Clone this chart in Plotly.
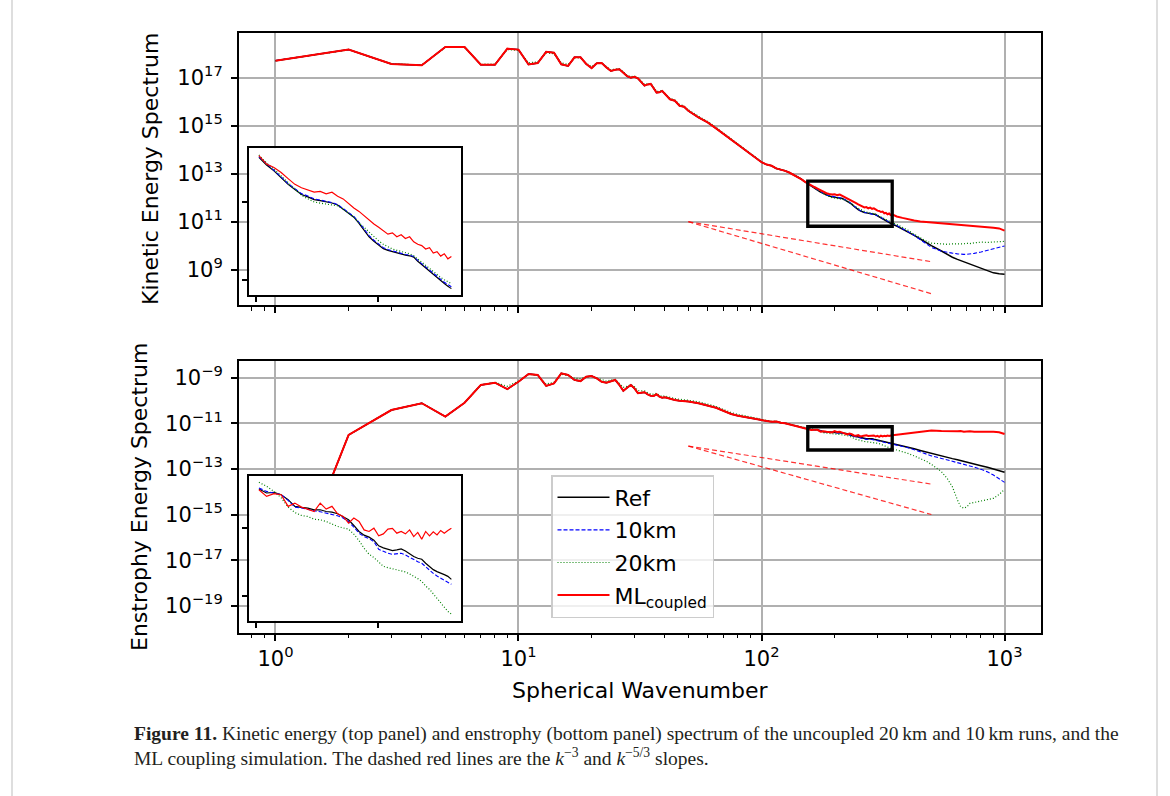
import math
import plotly.graph_objects as go

# ---------------- data (values stored as log10 of the spectrum) ----------------
wavenumber = (list(range(1, 41)) + [42, 44, 46, 48]
              + list(range(50, 151, 5))
              + list(range(155, 346, 5))
              + [360, 380, 400, 425, 450, 475, 500, 550, 580, 610, 640, 660, 680,
                 700, 720, 750, 800, 850, 900, 950, 1000])

zoom_window = [155, 345]

# Kinetic energy spectrum (top panel)
ke_shared_low = [17.71, 18.17, 17.57, 17.52, 18.28, 18.28, 17.54, 17.54, 18.21, 18.17,
                 17.55, 17.61, 18.08, 18.04, 17.56, 17.49, 17.85, 17.85, 17.57, 17.40,
                 17.60, 17.61, 17.43, 17.28, 17.33, 17.35, 17.21, 17.06, 17.00, 17.04,
                 16.97, 16.82, 16.67, 16.72, 16.74, 16.56, 16.38, 16.39, 16.45, 16.33,
                 16.10, 16.04, 15.83, 15.79]
ke_shared_mid = [15.62, 15.35, 15.14, 14.89, 14.65, 14.43, 14.20, 14.02, 13.82, 13.65,
                 13.48, 13.38, 13.33, 13.22, 13.18, 13.12, 13.05, 12.97, 12.88, 12.79, 12.68]

ke_ref = ke_shared_low + ke_shared_mid + [
    12.576, 12.477, 12.403, 12.316, 12.23, 12.165, 12.10, 12.07, 12.035, 12.022,
    12.009, 11.992, 11.966, 11.914, 11.862, 11.81, 11.732, 11.645, 11.559, 11.502,
    11.45, 11.408, 11.386, 11.368, 11.351, 11.338, 11.325, 11.316, 11.299, 11.247,
    11.204, 11.16, 11.113, 11.074, 11.03, 10.996, 10.961, 10.927, 10.896,
    10.82, 10.70, 10.58, 10.43, 10.28, 10.13, 10.00, 9.78, 9.64, 9.52, 9.43, 9.38,
    9.32, 9.28, 9.23, 9.15, 9.04, 8.94, 8.87, 8.83, 8.81]

ke_10km = ke_shared_low + ke_shared_mid + [
    12.585, 12.49, 12.41, 12.325, 12.24, 12.175, 12.112, 12.08, 12.045, 12.03,
    12.015, 11.998, 11.972, 11.922, 11.872, 11.82, 11.745, 11.66, 11.575, 11.515,
    11.462, 11.42, 11.396, 11.378, 11.36, 11.346, 11.333, 11.323, 11.306, 11.258,
    11.215, 11.172, 11.127, 11.088, 11.045, 11.012, 10.978, 10.947, 10.92,
    10.84, 10.72, 10.59, 10.43, 10.26, 10.08, 9.93, 9.77, 9.72, 9.69, 9.66, 9.64,
    9.64, 9.64, 9.65, 9.68, 9.74, 9.80, 9.87, 9.93, 9.99]

ke_20km = [17.71, 18.16, 17.58, 17.53, 18.26, 18.26, 17.56, 17.57, 18.17, 18.14,
           17.62, 17.66, 18.03, 18.00, 17.62, 17.55, 17.82, 17.82, 17.60, 17.46,
           17.61, 17.62, 17.46, 17.33, 17.36, 17.37, 17.25, 17.10, 17.04, 17.07,
           16.99, 16.86, 16.72, 16.75, 16.76, 16.60, 16.43, 16.43, 16.47, 16.36,
           16.14, 16.07, 15.88, 15.83,
           15.66, 15.40, 15.18, 14.93, 14.69, 14.47, 14.24, 14.05, 13.85, 13.67,
           13.49, 13.39, 13.34, 13.23, 13.19, 13.13, 13.06, 12.98, 12.89, 12.80, 12.70,
           12.606, 12.503, 12.425, 12.338, 12.251, 12.165, 12.09, 12.045, 12.005, 11.99,
           11.98, 11.97, 11.955, 11.915, 11.865, 11.81, 11.74, 11.68, 11.611, 11.559,
           11.507, 11.463, 11.429, 11.403, 11.386, 11.373, 11.36, 11.343, 11.316, 11.273,
           11.234, 11.195, 11.152, 11.113, 11.074, 11.04, 11.009, 10.983, 10.961,
           10.89, 10.78, 10.65, 10.48, 10.32, 10.20, 10.11, 10.07, 10.06, 10.08, 10.07,
           10.09, 10.08, 10.10, 10.09, 10.12, 10.15, 10.14, 10.16, 10.17, 10.18]

ke_ml = ke_shared_low + ke_shared_mid + [
    12.598, 12.49, 12.446, 12.381, 12.303, 12.23, 12.187, 12.156, 12.13, 12.139,
    12.109, 12.13, 12.078, 12.044, 11.983, 11.927, 11.884, 11.827, 11.775, 11.723,
    11.68, 11.636, 11.593, 11.61, 11.559, 11.585, 11.537, 11.559, 11.494, 11.463,
    11.446, 11.403, 11.42, 11.351, 11.368, 11.312, 11.342, 11.277, 11.307,
    11.22, 11.16, 11.10, 11.05, 11.01, 10.99, 10.97, 10.96, 10.94, 10.92, 10.90,
    10.88, 10.88, 10.86, 10.85, 10.83, 10.79, 10.77, 10.75, 10.72, 10.63]

# Enstrophy spectrum (bottom panel)
ens_shared_low = [-19.6, -11.51, -10.42, -10.12, -10.71, -10.10, -9.32, -9.22, -9.50, -9.18,
                  -8.84, -8.88, -9.36, -9.25, -8.81, -8.88, -9.10, -9.15, -8.96, -8.93,
                  -9.03, -9.18, -9.22, -9.15, -9.10, -9.32, -9.58, -9.44, -9.32, -9.47,
                  -9.68, -9.66, -9.64, -9.73, -9.79, -9.80, -9.73, -9.83, -9.88, -9.86,
                  -9.93, -9.98, -10.01, -10.02]
ens_shared_mid = [-10.05, -10.12, -10.24, -10.32, -10.46, -10.59, -10.67, -10.71, -10.78, -10.81,
                  -10.86, -10.90, -10.93, -10.92, -10.98, -11.00, -11.05, -11.09, -11.13, -11.17,
                  -11.21]

ens_ref = ens_shared_low + ens_shared_mid + [
    -11.246, -11.274, -11.27, -11.286, -11.321, -11.368, -11.375, -11.38, -11.392, -11.392,
    -11.404, -11.408, -11.42, -11.439, -11.462, -11.502, -11.544, -11.57, -11.584, -11.605,
    -11.645, -11.659, -11.669, -11.678, -11.673, -11.666, -11.681, -11.702, -11.72, -11.732,
    -11.739, -11.767, -11.791, -11.812, -11.826, -11.835, -11.847, -11.859, -11.88,
    -11.92, -11.98, -12.04, -12.12, -12.19, -12.26, -12.32, -12.43, -12.49, -12.55, -12.60,
    -12.64, -12.67, -12.71, -12.74, -12.78, -12.86, -12.93, -13.00, -13.07, -13.15]

ens_10km = ens_shared_low + ens_shared_mid + [
    -11.239, -11.263, -11.274, -11.286, -11.326, -11.373, -11.38, -11.387, -11.399, -11.406,
    -11.415, -11.422, -11.434, -11.45, -11.474, -11.514, -11.556, -11.58, -11.594, -11.615,
    -11.669, -11.683, -11.697, -11.704, -11.702, -11.697, -11.709, -11.727, -11.744, -11.756,
    -11.767, -11.791, -11.819, -11.838, -11.857, -11.873, -11.889, -11.904, -11.915,
    -11.95, -12.01, -12.07, -12.16, -12.25, -12.34, -12.43, -12.54, -12.60, -12.66, -12.71,
    -12.75, -12.79, -12.83, -12.87, -12.92, -13.02, -13.13, -13.27, -13.42, -13.59]

ens_20km = [-19.6, -11.51, -10.42, -10.12, -10.71, -10.10, -9.32, -9.20, -9.38, -9.15,
            -8.86, -8.90, -9.28, -9.20, -8.85, -8.90, -9.02, -9.05, -8.97, -8.95,
            -9.02, -9.10, -9.15, -9.10, -9.08, -9.25, -9.42, -9.38, -9.30, -9.40,
            -9.57, -9.58, -9.58, -9.66, -9.72, -9.73, -9.68, -9.77, -9.82, -9.80,
            -9.87, -9.92, -9.95, -9.96,
            -9.99, -10.06, -10.18, -10.26, -10.40, -10.53, -10.61, -10.66, -10.73, -10.77,
            -10.83, -10.88, -10.91, -10.91, -10.97, -10.99, -11.04, -11.08, -11.12, -11.15, -11.18,
            -11.199, -11.227, -11.263, -11.307, -11.373, -11.411, -11.432, -11.439, -11.458, -11.462,
            -11.474, -11.493, -11.509, -11.519, -11.528, -11.563, -11.608, -11.662, -11.704, -11.727,
            -11.76, -11.789, -11.798, -11.807, -11.814, -11.819, -11.828, -11.842, -11.857, -11.875,
            -11.894, -11.927, -11.95, -11.983, -12.014, -12.044, -12.073, -12.105, -12.124,
            -12.17, -12.24, -12.32, -12.43, -12.54, -12.66, -12.80, -13.12, -13.41, -13.78, -14.36,
            -14.66, -14.72, -14.66, -14.51, -14.47, -14.39, -14.36, -14.29, -14.12, -13.90]

ens_ml = ens_shared_low + ens_shared_mid + [
    -11.251, -11.298, -11.279, -11.286, -11.368, -11.345, -11.373, -11.387, -11.404, -11.345,
    -11.387, -11.368, -11.42, -11.439, -11.486, -11.45, -11.474, -11.533, -11.544, -11.521,
    -11.575, -11.561, -11.528, -11.523, -11.556, -11.544, -11.561, -11.533, -11.58, -11.551,
    -11.598, -11.544, -11.575, -11.547, -11.568, -11.537, -11.556, -11.537, -11.521,
    -11.50, -11.47, -11.45, -11.41, -11.38, -11.36, -11.32, -11.34, -11.35, -11.33, -11.35,
    -11.34, -11.37, -11.36, -11.35, -11.37, -11.36, -11.38, -11.37, -11.39, -11.47]

# reference slopes (k^-3 and k^-5/3), end points
slope_k = [50, 500]
ke_slope_m3 = [1e11, 1e8]
ke_slope_m53 = [1e11, 2.15e9]
ens_slope_m3 = [1e-12, 1e-15]
ens_slope_m53 = [1e-12, 2.15e-14]

series_names = ["Ref", "10km", "20km", "ML<sub>coupled</sub>"]

x_major = [1, 10, 100, 1000]
x_major_text = ["10<sup>0</sup>", "10<sup>1</sup>", "10<sup>2</sup>", "10<sup>3</sup>"]
ke_ticks = [1e9, 1e11, 1e13, 1e15, 1e17]
ke_tick_text = ["10<sup>9</sup>", "10<sup>11</sup>", "10<sup>13</sup>", "10<sup>15</sup>", "10<sup>17</sup>"]
ens_ticks = [1e-19, 1e-17, 1e-15, 1e-13, 1e-11, 1e-9]
ens_tick_text = ["10<sup>\u221219</sup>", "10<sup>\u221217</sup>", "10<sup>\u221215</sup>",
                 "10<sup>\u221213</sup>", "10<sup>\u221211</sup>", "10<sup>\u22129</sup>"]

for arr in (ke_ref, ke_10km, ke_20km, ke_ml, ens_ref, ens_10km, ens_20km, ens_ml):
    assert len(arr) == len(wavenumber), len(arr)

# ---------------- styles ----------------
styles = [dict(color="#000000", width=1.5),
          dict(color="#0000ff", width=1.1, dash="4px,2px"),
          dict(color="#008000", width=1.2, dash="1px,2px"),
          dict(color="#ff0000", width=2.0)]
FONT = "DejaVu Sans"
W, H = 1170, 796

def pw(vals):
    return [10 ** v for v in vals]

sel = [i for i, k in enumerate(wavenumber) if zoom_window[0] <= k <= zoom_window[1]]
k_in = [wavenumber[i] for i in sel]

def inset_range(arrs):
    vals = [a[i] for a in arrs for i in sel]
    lo, hi = min(vals), max(vals)
    m = 0.05 * (hi - lo)
    return [lo - m, hi + m]

xr_in = [math.log10(zoom_window[0]), math.log10(zoom_window[1])]
mx = 0.05 * (xr_in[1] - xr_in[0])
xr_in = [xr_in[0] - mx, xr_in[1] + mx]
yr_ke_in = inset_range([ke_ref, ke_10km, ke_20km, ke_ml])
yr_ens_in = inset_range([ens_ref, ens_10km, ens_20km, ens_ml])

fig = go.Figure()

# slope lines
slope_line = dict(color="rgba(255,0,0,0.8)", width=1.2, dash="5px,3px")
for ys, ax in ((ke_slope_m3, ("x", "y")), (ke_slope_m53, ("x", "y")),
               (ens_slope_m3, ("x2", "y2")), (ens_slope_m53, ("x2", "y2"))):
    fig.add_trace(go.Scatter(x=slope_k, y=ys, mode="lines", line=slope_line,
                             xaxis=ax[0], yaxis=ax[1], showlegend=False, hoverinfo="skip"))

ke_all = [ke_ref, ke_10km, ke_20km, ke_ml]
ens_all = [ens_ref, ens_10km, ens_20km, ens_ml]
for name, ke, ens, st in zip(series_names, ke_all, ens_all, styles):
    fig.add_trace(go.Scatter(x=wavenumber, y=pw(ke), mode="lines", line=st, name=name,
                             xaxis="x", yaxis="y", showlegend=False, hoverinfo="skip"))
    fig.add_trace(go.Scatter(x=wavenumber, y=pw(ens), mode="lines", line=st, name=name,
                             legendgroup=name, xaxis="x2", yaxis="y2", showlegend=True,
                             hoverinfo="skip"))
for name, ke, ens, st in zip(series_names, ke_all, ens_all, styles):
    st_in = dict(st)
    st_in["width"] = min(st["width"], 1.2)
    fig.add_trace(go.Scatter(x=k_in, y=[10 ** ke[i] for i in sel], mode="lines", line=st_in,
                             xaxis="x3", yaxis="y3", showlegend=False, hoverinfo="skip"))
    fig.add_trace(go.Scatter(x=k_in, y=[10 ** ens[i] for i in sel], mode="lines", line=st_in,
                             xaxis="x4", yaxis="y4", showlegend=False, hoverinfo="skip"))

x_minor = [d * 10 ** e for e in range(-1, 3) for d in range(2, 10) if 0.75 < d * 10 ** e < 1400]

def px_x(a, b):
    return [a / W, b / W]

def px_y(top, bottom):
    return [1 - bottom / H, 1 - top / H]

TICKFONT = dict(family=FONT, size=21, color="black")
frame = dict(showline=True, linecolor="black", linewidth=2, mirror=True, zeroline=False)
main_x = dict(type="log", range=[-0.15, 3.15], domain=px_x(239, 1041),
              showgrid=True, gridcolor="#b0b0b0", gridwidth=1.8,
              ticks="outside", ticklen=6, tickwidth=1.6, tickcolor="black",
              tickmode="array", tickvals=x_major, ticktext=x_major_text,
              tickfont=TICKFONT,
              minor=dict(tickmode="array", tickvals=x_minor, ticks="outside", ticklen=3.5,
                         tickwidth=1.1, tickcolor="black", showgrid=False),
              **frame)
main_y = dict(type="log", showgrid=True, gridcolor="#b0b0b0", gridwidth=1.8,
              ticks="outside", ticklen=6, tickwidth=1.6, tickcolor="black",
              tickmode="array", tickfont=TICKFONT, ticklabelstandoff=4,
              **frame)
inset_x = dict(type="log", range=xr_in, domain=px_x(249.3, 461), showgrid=False,
               ticks="outside", ticklen=5, tickwidth=1.6, tickcolor="black",
               tickmode="array", tickvals=[153, 254], showticklabels=False, **frame)
inset_y = dict(type="log", showgrid=False, ticks="outside", ticklen=5, tickwidth=1.6,
               tickcolor="black", tickmode="array", showticklabels=False, **frame)

fig.update_layout(
    width=W, height=H, margin=dict(l=0, r=0, t=0, b=0),
    paper_bgcolor="white", plot_bgcolor="white",
    font=dict(family=FONT, size=19, color="black"),
    xaxis=dict(main_x, anchor="y", showticklabels=False),
    yaxis=dict(main_y, anchor="x", domain=px_y(33.3, 305), range=[7.53, 18.85],
               tickvals=ke_ticks, ticktext=ke_tick_text),
    xaxis2=dict(main_x, anchor="y2"),
    yaxis2=dict(main_y, anchor="x2", domain=px_y(361, 632.7), range=[-20.18, -8.27],
                tickvals=ens_ticks, ticktext=ens_tick_text),
    xaxis3=dict(inset_x, anchor="y3"),
    yaxis3=dict(inset_y, anchor="x3", domain=px_y(148.3, 295.3), range=yr_ke_in,
                tickvals=[1e11, 1e12]),
    xaxis4=dict(inset_x, anchor="y4"),
    yaxis4=dict(inset_y, anchor="x4", domain=px_y(475.7, 620.7), range=yr_ens_in,
                tickvals=[1e-12, 3e-12]),
    showlegend=True,
    legend=dict(x=551 / W, y=1 - 475 / H, xanchor="left", yanchor="top",
                bgcolor="rgba(255,255,255,0.8)", bordercolor="#cccccc", borderwidth=1.5,
                font=dict(family=FONT, size=22, color="black"),
                traceorder="grouped", tracegroupgap=1, itemwidth=52),
    hovermode=False,
)

shapes = []
# white backgrounds for the insets (drawn inside the inset subplots)
for xa, ya, yr in (("x3", "y3", yr_ke_in), ("x4", "y4", yr_ens_in)):
    shapes.append(dict(type="rect", xref=xa, yref=ya, layer="below",
                       x0=10 ** xr_in[0], x1=10 ** xr_in[1], y0=10 ** yr[0], y1=10 ** yr[1],
                       fillcolor="white", line=dict(width=0)))
# zoom rectangles on the main panels
for xa, ya, yr in (("x", "y", yr_ke_in), ("x2", "y2", yr_ens_in)):
    shapes.append(dict(type="rect", xref=xa, yref=ya, layer="above",
                       x0=zoom_window[0], x1=zoom_window[1], y0=10 ** yr[0], y1=10 ** yr[1],
                       fillcolor="rgba(0,0,0,0)", line=dict(color="black", width=3.3)))
# page frame lines
for xp in (12, 1157):
    shapes.append(dict(type="line", xref="paper", yref="paper", x0=xp / W, x1=xp / W, y0=0, y1=1,
                       line=dict(color="#c8c8c8", width=1.2)))
fig.update_layout(shapes=shapes)

annotations = [
    dict(text="Kinetic Energy Spectrum", x=150 / W, y=1 - 169 / H, xref="paper", yref="paper",
         textangle=-90, showarrow=False, font=dict(family=FONT, size=22, color="black"),
         xanchor="center", yanchor="middle"),
    dict(text="Enstrophy Energy Spectrum", x=139 / W, y=1 - 497 / H, xref="paper", yref="paper",
         textangle=-90, showarrow=False, font=dict(family=FONT, size=22, color="black"),
         xanchor="center", yanchor="middle"),
    dict(text="Spherical Wavenumber", x=640 / W, y=1 - 690 / H, xref="paper", yref="paper",
         showarrow=False, font=dict(family=FONT, size=22, color="black"),
         xanchor="center", yanchor="middle"),
    dict(text=("<b>Figure 11.</b> Kinetic energy (top panel) and enstrophy (bottom panel) spectrum "
               "of the uncoupled 20\u2009km and 10\u2009km runs, and the<br>ML coupling simulation. "
               "The dashed red lines are the <i>k</i><sup>\u22123</sup> and <i>k</i><sup>\u22125/3</sup> slopes."),
         x=132 / W, y=1 - 721 / H, xref="paper", yref="paper", showarrow=False, align="left",
         xanchor="left", yanchor="top",
         font=dict(family="Liberation Serif", size=19.5, color="#231f20")),
]
fig.update_layout(annotations=annotations)

fig.write_html("out.html", config={"displayModeBar": False},
               post_script="document.body.style.margin='0';document.body.style.overflow='hidden';")
